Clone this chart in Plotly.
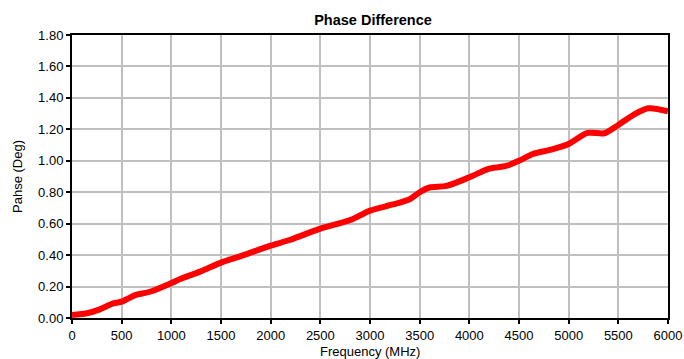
import plotly.graph_objects as go

freq_mhz = [0, 150, 280, 415, 500, 550, 635, 785, 1000, 1090, 1290, 1500, 1690, 2000,
            2190, 2500, 2800, 3000, 3230, 3400, 3500, 3600, 3770, 4000, 4200, 4370,
            4500, 4640, 4810, 5000, 5190, 5360, 5500, 5650, 5800, 6000]
phase_deg = [0.019, 0.030, 0.055, 0.093, 0.104, 0.119, 0.146, 0.167, 0.222, 0.248, 0.295,
             0.352, 0.392, 0.460, 0.496, 0.568, 0.623, 0.683, 0.722, 0.755, 0.800, 0.830,
             0.840, 0.895, 0.950, 0.967, 1.000, 1.043, 1.069, 1.107, 1.177, 1.175, 1.228,
             1.291, 1.334, 1.315]

x_ticks = [0, 500, 1000, 1500, 2000, 2500, 3000, 3500, 4000, 4500, 5000, 5500, 6000]
y_ticks = [0.0, 0.2, 0.4, 0.6, 0.8, 1.0, 1.2, 1.4, 1.6, 1.8]

W, H = 684, 359
L, R, T, B = 72, 668, 35, 318


def px_x(px):
    return (px - L) / (R - L)


def px_y(py):
    return (B - py) / (B - T)


fig = go.Figure()
fig.add_trace(go.Scatter(
    x=freq_mhz, y=phase_deg, mode="lines",
    line=dict(color="#FF0000", width=6, shape="spline", smoothing=0.8),
    showlegend=False, hoverinfo="x+y",
))

fig.update_layout(
    width=W, height=H,
    margin=dict(l=L, r=W - R, t=T, b=H - B, autoexpand=False),
    paper_bgcolor="white", plot_bgcolor="white",
    font=dict(family="Liberation Sans, Arial, sans-serif", size=13, color="#000000"),
    title=dict(text="<b>Phase Difference</b>", x=373 / W, xanchor="center",
               y=1 - 20 / H, yanchor="middle", font=dict(size=14.5), automargin=False),
    annotations=[
        dict(text="Frequency (MHz)", x=px_x((L + R) / 2), y=px_y(351.5), xref="paper", yref="paper",
             xanchor="center", yanchor="middle", showarrow=False, font=dict(size=13)),
        dict(text="Pahse (Deg)", x=px_x(17), y=px_y(177), xref="paper", yref="paper",
             xanchor="center", yanchor="middle", showarrow=False, textangle=-90,
             font=dict(size=13)),
    ],
)
fig.update_xaxes(
    range=[0, 6000], tickvals=x_ticks, ticktext=[str(v) for v in x_ticks],
    showgrid=True, gridcolor="#C0C0C0", gridwidth=1.5,
    showline=True, linecolor="#000000", linewidth=2, mirror=True,
    ticks="outside", ticklen=4, tickcolor="#000000", tickwidth=1.5,
    zeroline=False, tickfont=dict(size=13), automargin=False,
)
fig.update_yaxes(
    range=[0, 1.8], tickvals=y_ticks, ticktext=[f"{v:.2f}" for v in y_ticks],
    showgrid=True, gridcolor="#C0C0C0", gridwidth=1.5,
    showline=True, linecolor="#000000", linewidth=2, mirror=True,
    ticks="outside", ticklen=4, tickcolor="#000000", tickwidth=1.5,
    zeroline=False, tickfont=dict(size=13), automargin=False,
)

fig.write_html("out.html", config={"displayModeBar": False},
               post_script="document.body.style.margin='0';")
